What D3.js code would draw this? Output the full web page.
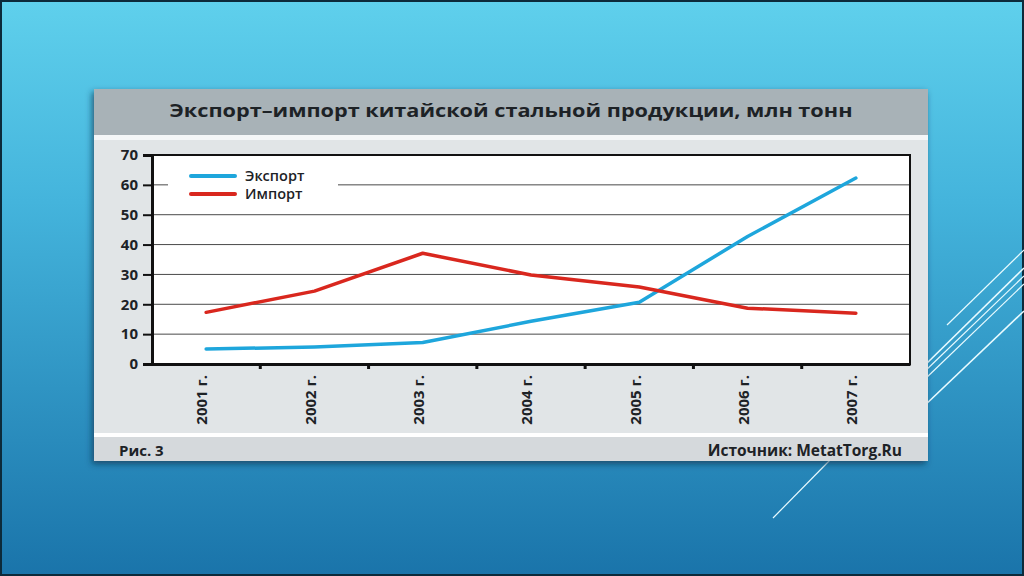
<!DOCTYPE html>
<html>
<head>
<meta charset="utf-8">
<script src="https://cdn.jsdelivr.net/npm/d3@7"></script>
<style>
  html, body { margin: 0; padding: 0; background: #000; }
  svg { display: block; }
  text { font-family: "Open Sans", "DejaVu Sans", sans-serif; }
</style>
</head>
<body>
<div id="chart"></div>
<script>
// данные графика
const years = ['2001 г.', '2002 г.', '2003 г.', '2004 г.', '2005 г.', '2006 г.', '2007 г.']
const exportVals = [5, 5.7, 7.2, 14.3, 20.7, 42.7, 62.3]
const importVals = [17.3, 24.4, 37.1, 29.8, 25.8, 18.7, 17]
const yTicks = [0, 10, 20, 30, 40, 50, 60, 70]
const seriesNames = ['Экспорт', 'Импорт']
const seriesColors = ['#1ea6dc', '#d9271e']

const W = 1024
const H = 576

const svg = d3.select('#chart').append('svg')
  .attr('width', W)
  .attr('height', H)

const defs = svg.append('defs')

// фон слайда
const bg = defs.append('linearGradient')
  .attr('id', 'bg').attr('x1', 0).attr('y1', 0).attr('x2', 0).attr('y2', 1)
bg.append('stop').attr('offset', '0%').attr('stop-color', '#5fd0ec')
bg.append('stop').attr('offset', '35%').attr('stop-color', '#44b4dc')
bg.append('stop').attr('offset', '100%').attr('stop-color', '#1a74aa')

const shadow = defs.append('filter').attr('id', 'shadow')
  .attr('x', '-5%').attr('y', '-5%').attr('width', '110%').attr('height', '115%')
shadow.append('feDropShadow')
  .attr('dx', -2).attr('dy', 3).attr('stdDeviation', 3)
  .attr('flood-color', '#0a3550').attr('flood-opacity', 0.7)

svg.append('rect')
  .attr('x', 1).attr('y', 1).attr('width', W - 2).attr('height', H - 2)
  .attr('fill', 'url(#bg)')
  .attr('stroke', '#0c2a3a').attr('stroke-width', 2)

// декоративные линии справа
const deco = [
  [947, 325, 1024, 250, 1.2],
  [922, 368, 1024, 268, 1.6],
  [922, 374, 1024, 276, 1.2],
  [924, 380, 1024, 284, 1.2],
  [922, 408, 1024, 311, 1.6],
  [773, 518, 833, 457, 1.2]
]
svg.append('g').selectAll('line').data(deco).join('line')
  .attr('x1', d => d[0]).attr('y1', d => d[1])
  .attr('x2', d => d[2]).attr('y2', d => d[3])
  .attr('stroke', '#e8fbff').attr('stroke-width', d => d[4])

// панель графика
const panel = svg.append('g')
panel.append('rect')
  .attr('x', 94).attr('y', 89).attr('width', 834).attr('height', 372)
  .attr('fill', '#e1e5e7')
  .attr('filter', 'url(#shadow)')
panel.append('rect')
  .attr('x', 94).attr('y', 89).attr('width', 834).attr('height', 46)
  .attr('fill', '#a8b2b7')
panel.append('rect')
  .attr('x', 94).attr('y', 135).attr('width', 834).attr('height', 5)
  .attr('fill', '#f4f6f7')
panel.append('rect')
  .attr('x', 94).attr('y', 433).attr('width', 834).attr('height', 4)
  .attr('fill', '#ffffff')
panel.append('rect')
  .attr('x', 94).attr('y', 437).attr('width', 834).attr('height', 24)
  .attr('fill', '#d5d9dc')

panel.append('text')
  .attr('x', 511).attr('y', 117)
  .attr('text-anchor', 'middle')
  .attr('font-size', 18).attr('font-weight', 'bold')
  .attr('fill', '#1d2226')
  .attr('textLength', 683).attr('lengthAdjust', 'spacingAndGlyphs')
  .text('Экспорт–импорт китайской стальной продукции, млн тонн')

panel.append('text')
  .attr('x', 119).attr('y', 456)
  .attr('font-size', 15).attr('font-weight', 'bold').attr('fill', '#1d2226')
  .text('Рис. 3')

panel.append('text')
  .attr('x', 902).attr('y', 456)
  .attr('text-anchor', 'end')
  .attr('font-size', 15.5).attr('font-weight', 'bold').attr('fill', '#1d2226')
  .text('Источник: MetatTorg.Ru')

// область построения
const plot = { left: 152, right: 910, top: 155, bottom: 364 }

const x = d3.scaleBand()
  .domain(years)
  .range([plot.left, plot.right])
  .padding(0)

const y = d3.scaleLinear()
  .domain([0, 70])
  .range([plot.bottom, plot.top])

const g = svg.append('g')

g.append('rect')
  .attr('x', plot.left).attr('y', plot.top)
  .attr('width', plot.right - plot.left).attr('height', plot.bottom - plot.top)
  .attr('fill', '#ffffff')

// сетка
g.append('g').selectAll('line').data(yTicks.slice(1, -1)).join('line')
  .attr('x1', plot.left).attr('x2', plot.right)
  .attr('y1', d => y(d)).attr('y2', d => y(d))
  .attr('stroke', '#4a4a4a').attr('stroke-width', 1)

// рамка
g.append('rect')
  .attr('x', plot.left).attr('y', plot.top)
  .attr('width', plot.right - plot.left).attr('height', plot.bottom - plot.top)
  .attr('fill', 'none')
  .attr('stroke', '#111').attr('stroke-width', 2)

// ось Y
const yAxis = g.append('g')
  .attr('transform', `translate(${plot.left},0)`)
  .call(d3.axisLeft(y).tickValues(yTicks).tickSize(9).tickPadding(5))
yAxis.select('.domain').attr('stroke', '#111').attr('stroke-width', 3)
yAxis.selectAll('.tick line').attr('stroke', '#111').attr('stroke-width', 2)
yAxis.selectAll('.tick text')
  .attr('font-size', 15).attr('font-weight', 'bold').attr('fill', '#1d2226')
  .attr('font-family', '"Open Sans", "DejaVu Sans", sans-serif')

// ось X: засечки на границах категорий
const xAxis = g.append('g')
  .attr('transform', `translate(0,${plot.bottom})`)
  .call(d3.axisBottom(x).tickSize(0).tickPadding(0))
xAxis.select('.domain').attr('stroke', '#111').attr('stroke-width', 3)
xAxis.selectAll('.tick text')
  .attr('font-size', 15).attr('font-weight', 'bold').attr('fill', '#1d2226')
  .attr('font-family', '"Open Sans", "DejaVu Sans", sans-serif')
  .attr('transform', 'translate(-4,11) rotate(-90)')
  .attr('text-anchor', 'end')
  .attr('dy', '0.35em')
g.append('g').selectAll('line').data(years.slice(1)).join('line')
  .attr('x1', d => x(d)).attr('x2', d => x(d))
  .attr('y1', plot.bottom).attr('y2', plot.bottom + 5)
  .attr('stroke', '#111').attr('stroke-width', 3)

// линии
const line = d3.line()
  .x((d, i) => x(years[i]) + x.bandwidth() / 2)
  .y(d => y(d))

const series = [exportVals, importVals]
g.append('g').selectAll('path').data(series).join('path')
  .attr('d', d => line(d))
  .attr('fill', 'none')
  .attr('stroke', (d, i) => seriesColors[i])
  .attr('stroke-width', 3.5)
  .attr('stroke-linejoin', 'round')
  .attr('stroke-linecap', 'round')

// легенда
const legend = g.append('g').attr('transform', 'translate(168,166)')
legend.append('rect')
  .attr('x', 0).attr('y', 0).attr('width', 170).attr('height', 38)
  .attr('fill', '#ffffff')
const items = legend.selectAll('g').data(seriesNames).join('g')
  .attr('transform', (d, i) => `translate(0,${10 + i * 18})`)
items.append('line')
  .attr('x1', 23).attr('x2', 67)
  .attr('stroke', (d, i) => seriesColors[i])
  .attr('stroke-width', 4).attr('stroke-linecap', 'round')
items.append('text')
  .attr('x', 77).attr('dy', '0.35em')
  .attr('font-size', 14.5).attr('font-weight', 600).attr('fill', '#1d2226')
  .text(d => d)
</script>
</body>
</html>
